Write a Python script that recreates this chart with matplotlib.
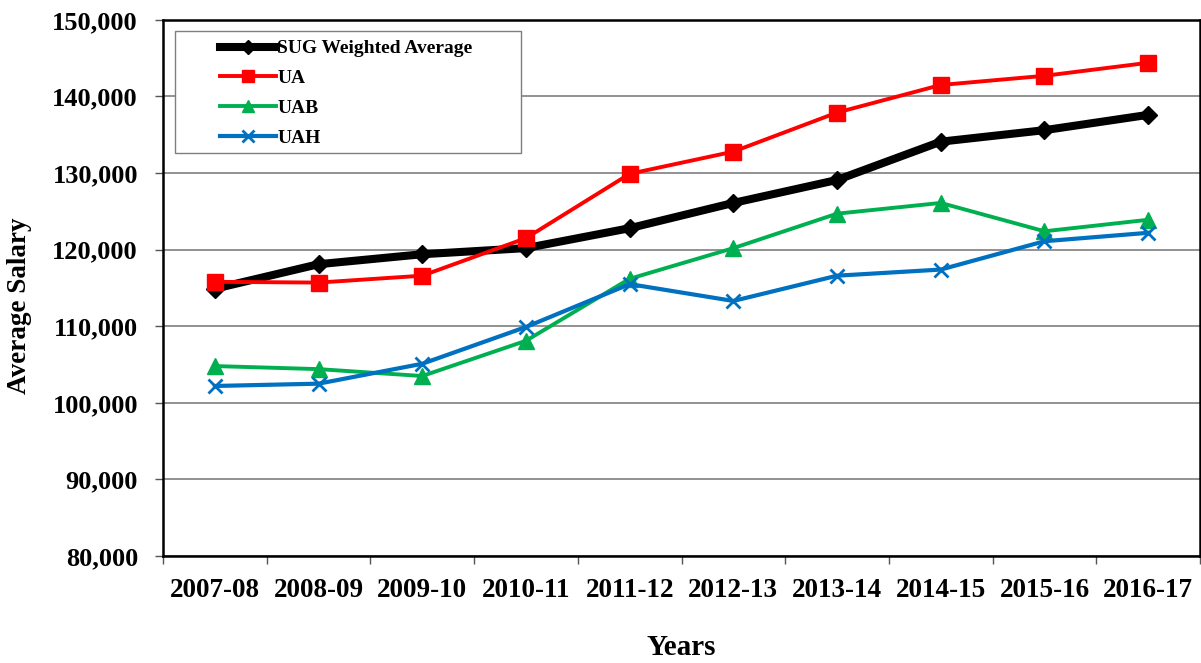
import numpy as np
import matplotlib.pyplot as plt
from matplotlib.patches import Rectangle
from matplotlib.ticker import FuncFormatter, FixedLocator

years = ["2007-08", "2008-09", "2009-10", "2010-11", "2011-12",
         "2012-13", "2013-14", "2014-15", "2015-16", "2016-17"]

sug = [114900, 118100, 119400, 120200, 122800, 126100, 129100, 134100, 135600, 137600]
ua = [115800, 115700, 116600, 121500, 129900, 132800, 137900, 141500, 142700, 144400]
uab = [104800, 104400, 103500, 108100, 116200, 120200, 124700, 126100, 122400, 123900]
uah = [102200, 102500, 105100, 109900, 115500, 113300, 116600, 117400, 121100, 122200]

plt.rcParams['font.family'] = ['Liberation Serif', 'DejaVu Serif']
plt.rcParams['font.weight'] = 'bold'

fig = plt.figure(figsize=(12.01, 6.63), dpi=100)
ax = fig.add_axes([0.1357, 0.1614, 0.8635, 0.8086])

x = np.arange(len(years))
ax.plot(x, sug, color='black', lw=5.8, marker='D', ms=9, label='SUG Weighted Average', zorder=3)
ax.plot(x, ua, color='#FF0000', lw=2.8, marker='s', ms=11.5, label='UA', zorder=4)
ax.plot(x, uab, color='#00B050', lw=2.8, marker='^', ms=11.5, label='UAB', zorder=4)
ax.plot(x, uah, color='#0070C0', lw=3.0, marker='x', ms=10, mew=2, label='UAH', zorder=4)

ax.set_ylim(80000, 150000)
ax.set_yticks(np.arange(80000, 150001, 10000))
ax.yaxis.set_major_formatter(FuncFormatter(lambda v, p: f"{int(v):,}"))
ax.grid(axis='y', color='#7f7f7f', lw=1.2)
ax.set_axisbelow(True)

ax.set_xlim(-0.5, len(years) - 0.5)
ax.set_xticks(x)
ax.set_xticklabels(years)
ax.xaxis.set_minor_locator(FixedLocator(np.arange(-0.5, len(years), 1.0)))
ax.tick_params(axis='x', which='major', length=0, pad=16, labelsize=19.5)
ax.tick_params(axis='x', which='minor', length=6, width=1.0, direction='out', color='#555555')
ax.tick_params(axis='y', length=6, width=1.0, labelsize=19, pad=12, color='#555555')

for s in ax.spines.values():
    s.set_linewidth(1.8)
    s.set_color('black')

ax.set_ylabel('Average Salary', fontsize=19.5, fontweight='bold')
ax.yaxis.set_label_coords(-0.1265, 0.466)
ax.set_xlabel('Years', fontsize=21, fontweight='bold', labelpad=22)

# legend frame drawn separately so the entries can sit with a wide left margin
ax.add_patch(Rectangle((0.0116, 0.7519), 0.3337, 0.2276, transform=ax.transAxes,
                       facecolor='white', edgecolor='#7f7f7f', lw=1.0, zorder=5))
leg = ax.legend(loc='upper left', bbox_to_anchor=(0.055, 0.963), fontsize=14,
                frameon=False, borderpad=0, borderaxespad=0, labelspacing=0.63,
                handlelength=2.9, handletextpad=0.05, markerscale=0.8)
leg.set_zorder(6)
for t in leg.get_texts():
    t.set_fontweight('bold')

fig.savefig('out.png', dpi=100)
